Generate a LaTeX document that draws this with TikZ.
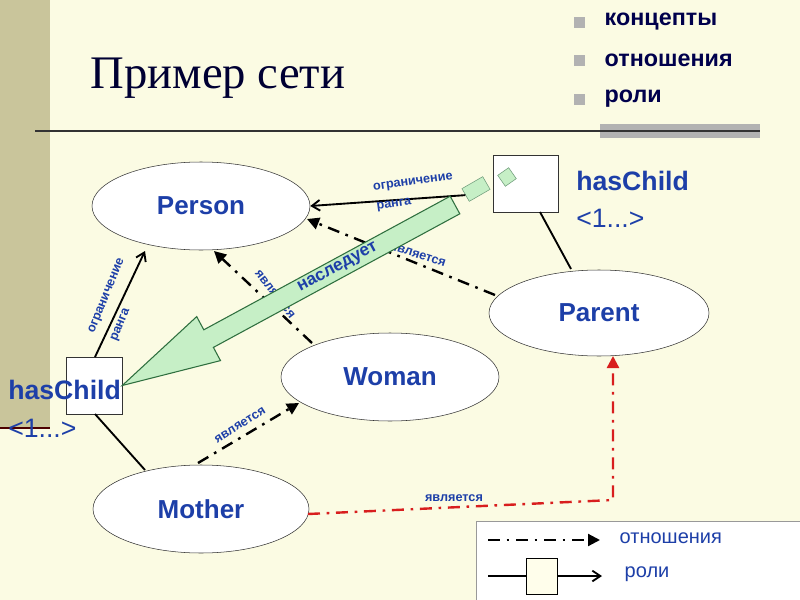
\documentclass[tikz,border=0pt]{standalone}
\usepackage{fontspec}
\setmainfont{Liberation Sans}
\newfontfamily\serifnt{Liberation Serif}
\usetikzlibrary{arrows.meta,shapes.geometric}
\definecolor{bg}{HTML}{FBFBE3}
\definecolor{strip}{HTML}{C9C59B}
\definecolor{tblue}{HTML}{1D3FA8}
\definecolor{gfill}{HTML}{C6EFC6}
\definecolor{gline}{HTML}{2F6F3F}
\definecolor{dred}{HTML}{D81E1E}
\begin{document}
\begin{tikzpicture}[x=0.75pt,y=-0.75pt,
 concept/.style={ellipse,draw=black!80,fill=white,minimum width=163.5pt,minimum height=66pt,font=\bfseries\fontsize{19.5}{20}\selectfont,text=tblue,inner sep=0},
 rolebox/.style={draw=black!80,fill=white,inner sep=0},
 isrel/.style={line width=1.8pt,dash pattern=on 9pt off 5pt on 2pt off 5pt,-{Triangle[length=9pt,width=9pt]}},
 lbl/.style={font=\bfseries\fontsize{9.5}{10}\selectfont,text=tblue,inner sep=1pt},
 big/.style={font=\fontsize{20}{20}\selectfont\bfseries,text=tblue,inner sep=0,anchor=west},
 roleln/.style={line width=1.4pt},
 rolearr/.style={line width=1.4pt,-{Straight Barb[length=6pt,width=8pt]}}]
\useasboundingbox (0,0) rectangle (800,600);
\fill[bg] (0,0) rectangle (800,600);
\fill[strip] (0,0) rectangle (50,428);
\draw[line width=2pt,black!70!red] (0,428) -- (50,428);
\node[anchor=west,font=\serifnt\fontsize{35}{35}\selectfont,text=black!80!blue] (title) at (86,78) {Пример сети};
\fill[gray!60] (600,124) rectangle (760,138);
\draw[line width=1.2pt,black!80] (35,131) -- (760,131);
\foreach \yy/\tt [count=\i] in {22/концепты,60/отношения,99/роли}{
  \fill[gray!60] (574,\yy-5) rectangle (585,\yy+6);
  \node[anchor=west,font=\bfseries\fontsize{17.5}{18}\selectfont,text=black!70!blue] (b\i) at (600,\yy) {\tt};
}
% concepts
\node[concept] (person) at (201,206) {Person};
\node[concept,minimum width=165pt,minimum height=64.5pt] (parent) at (599,313) {Parent};
\node[concept] (woman) at (390,377) {Woman};
\node[concept,minimum width=162pt] (mother) at (201,509) {Mother};
% role boxes
\node[rolebox,minimum width=48.75pt,minimum height=42.75pt] (rbox) at (525.5,183.5) {};
\node[rolebox,minimum width=42pt,minimum height=42.75pt] (lbox) at (94,385.5) {};
\node[draw=gline!70,fill=gfill,rotate=35,minimum size=10pt,inner sep=0] (sq) at (507,177) {};
\node[draw=gline!70,fill=gfill,rotate=30,minimum width=18pt,minimum height=11pt,inner sep=0] (gr) at (476,189) {};
% labels hasChild
\node[big] (hc1) at (576,181) {hasChild};
\node[big,font=\fontsize{20}{20}\selectfont,text=tblue] (n1) at (576,218) {<1...>};
\node[big] (hc2) at (8,390) {hasChild};
\node[big,font=\fontsize{20}{20}\selectfont,text=tblue] (n2) at (8,428) {<1...>};
% role connections
\coordinate (rb1) at (540,212);
\coordinate (pa0) at (571,269);
\draw[roleln] (rb1) -- (pa0);
\draw[rolearr] (gr.west) -- (person.east);
\coordinate (lb1) at (95,357);
\coordinate (pe0) at (145,251);
\draw[rolearr] (lb1) -- (pe0);
\coordinate (lb2) at (95,414);
\coordinate (mo0) at (145,470);
\draw[roleln] (lb2) -- (mo0);
\node[lbl,rotate=8] (l1) at (413,183) {ограничение};
\node[lbl,rotate=8] (l2) at (394,205) {ранга};
\node[lbl,rotate=68] (l3) at (107,296) {ограничение};
\node[lbl,rotate=68] (l4) at (121,325) {ранга};
% is-a relations
\coordinate (pa1) at (495,295);
\coordinate (pe1) at (307,219);
\draw[isrel] (pa1) -- (pe1);
\coordinate (wo1) at (312,343);
\coordinate (pe2) at (214,251);
\draw[isrel] (wo1) -- (pe2);
\coordinate (mo1) at (198,463);
\coordinate (wo2) at (299,403);
\draw[isrel] (mo1) -- (wo2);
\coordinate (mo2) at (308,514);
\coordinate (cr) at (613,500);
\coordinate (pa2) at (613,356);
\draw[isrel,dred] (mo2) -- (cr) -- (pa2);
\node[lbl,rotate=-18] (i1) at (418,255) {является};
\node[lbl,rotate=-52] (i2) at (275,294) {является};
\node[lbl,rotate=32] (i3) at (240,425) {является};
\node[lbl] (i4) at (454,498) {является};
% big inherit arrow
\coordinate (t1) at (459.8,213.8);
\coordinate (t2) at (450.2,196.2);
\draw[gline,fill=gfill,line width=0.8pt] (t1) -- (213.4,347.4) -- (220.5,360.6) -- (lbox.east) -- (196.7,316.6) -- (203.8,329.8) -- (t2) -- cycle;
\node[font=\bfseries\fontsize{13}{13}\selectfont,text=tblue,rotate=28.4] (inh) at (338,268) {наследует};
% legend
\node[draw=black!40,fill=white,minimum width=243pt,minimum height=60pt,inner sep=0,anchor=north west] (leg) at (476,521) {};
\coordinate (la) at (488,540);
\coordinate (lb) at (600,540);
\draw[isrel,line width=1.6pt] (la) -- (lb);
\node[anchor=west,font=\fontsize{15}{15}\selectfont,text=tblue] (lg1) at (615,538) {отношения};
\node[draw=black,fill=yellow!8,minimum width=23pt,minimum height=27pt,inner sep=0] (lsq) at (542,576) {};
\coordinate (lc) at (488,576);
\coordinate (ld) at (602,576);
\draw[roleln] (lc) -- (lsq.west);
\draw[rolearr] (lsq.east) -- (ld);
\node[anchor=west,font=\fontsize{15}{15}\selectfont,text=tblue] (lg2) at (620,574) {роли};
\end{tikzpicture}
\end{document}
